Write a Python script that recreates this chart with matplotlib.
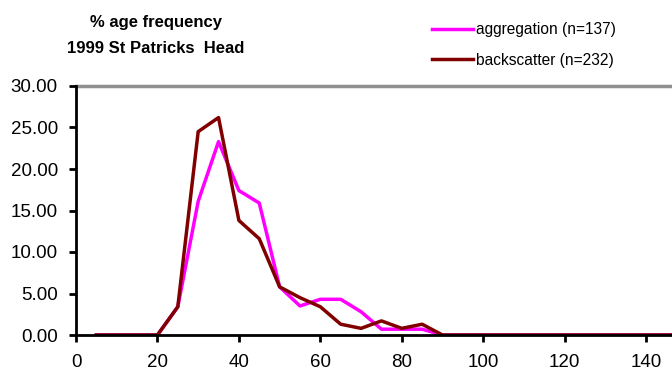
import matplotlib
matplotlib.use("Agg")
import matplotlib.pyplot as plt

plt.rcParams['font.family'] = ['Liberation Sans', 'DejaVu Sans']

sizes = list(range(5, 155, 5))
aggregation = [0, 0, 0, 0, 3.4, 16.1, 23.3, 17.4, 15.9, 5.8, 3.5, 4.3, 4.3, 2.8, 0.7, 0.7, 0.7, 0,
               0, 0, 0, 0, 0, 0, 0, 0, 0, 0, 0, 0]
backscatter = [0, 0, 0, 0, 3.4, 24.5, 26.2, 13.8, 11.6, 5.8, 4.5, 3.4, 1.3, 0.8, 1.7, 0.8, 1.3, 0,
               0, 0, 0, 0, 0, 0, 0, 0, 0, 0, 0, 0]
labels = ["aggregation (n=137)", "backscatter (n=232)"]

fig = plt.figure(figsize=(6.72, 3.70), dpi=100)
ax = fig.add_axes([76/672, (370-335)/370, 1 - 76/672 + 0.01, (335-86)/370])

ax.plot(sizes, aggregation, color='#FF00FF', lw=2.5, label=labels[0])
ax.plot(sizes, backscatter, color='#800000', lw=2.5, label=labels[1])

ax.set_xlim(0, 148)
ax.set_ylim(0, 30)
ax.set_xticks(range(0, 150, 20))
ax.set_yticks([0, 5, 10, 15, 20, 25, 30])
ax.set_yticklabels([f"{v:.2f}" for v in [0, 5, 10, 15, 20, 25, 30]])
ax.axhline(30, color='#909090', lw=2.5, clip_on=False, zorder=0)
for s in ['top', 'right']:
    ax.spines[s].set_visible(False)
ax.spines['left'].set_linewidth(2)
ax.spines['bottom'].set_linewidth(2)
ax.tick_params(axis='both', labelsize=13.5, width=2, length=5, direction='out')
ax.tick_params(axis='x', pad=9)
ax.tick_params(axis='y', pad=8)

fig.text(0.232, 0.94, "% age frequency", ha='center', va='center', fontsize=12, fontweight='bold')
fig.text(0.232, 0.87, "1999 St Patricks  Head", ha='center', va='center', fontsize=12, fontweight='bold')

fig.legend(loc='upper left', bbox_to_anchor=(0.643, 0.94), frameon=False, fontsize=11.2,
           handlelength=2.6, handletextpad=0.2, labelspacing=1.0, borderpad=0, borderaxespad=0)

fig.savefig("out.png", dpi=100)
